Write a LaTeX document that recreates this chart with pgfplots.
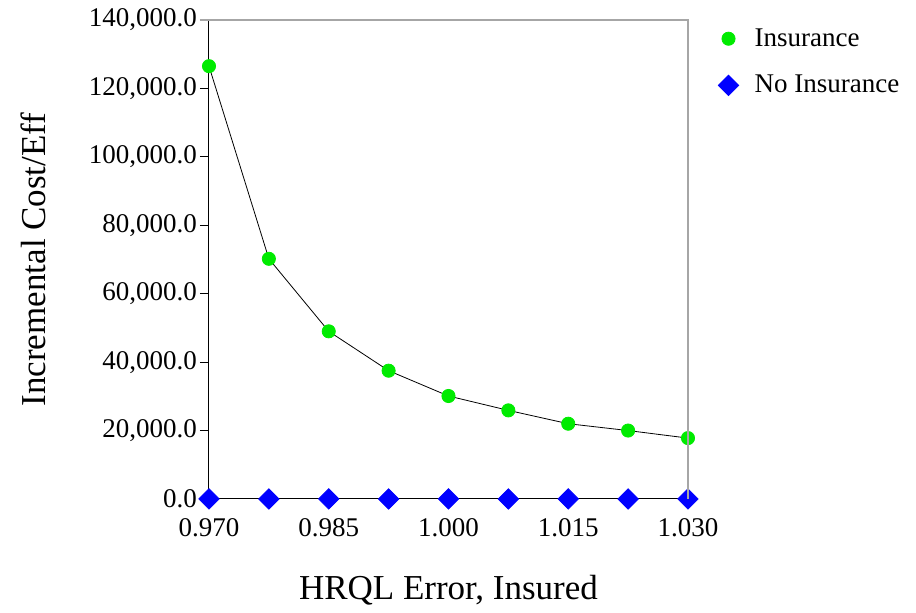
\documentclass[border=0pt]{standalone}
\usepackage{fontspec}
\setmainfont{Liberation Serif}
\usepackage{pgfplots}
\pgfplotsset{compat=1.18}
\definecolor{ptgreen}{RGB}{0,235,0}
\definecolor{ptblue}{RGB}{0,0,255}

\pgfplotstableread{
x      y
0.9700 126500
0.9775 70200
0.9850 49000
0.9925 37500
1.0000 30100
1.0075 25900
1.0150 22000
1.0225 20000
1.0300 17800
}\insured

\pgfplotstableread{
x      y
0.9700 0
0.9775 0
0.9850 0
0.9925 0
1.0000 0
1.0075 0
1.0150 0
1.0225 0
1.0300 0
}\uninsured

\begin{document}
\begin{tikzpicture}
% page extent: 916x613 px at 0.5pt per px, axis origin at (209,499) px
\path[use as bounding box] (-104.5pt,-57pt) rectangle (353.5pt,249.5pt);
\begin{axis}[
    scale only axis,
    width=239.5pt, height=239.5pt,
    at={(0,0)}, anchor=south west,
    xmin=0.97, xmax=1.03,
    ymin=0, ymax=140000,
    axis x line*=bottom,
    axis y line*=left,
    axis line style={black, line width=0.5pt},
    axis on top,
    clip=false,
    xtick={0.97,0.985,1.0,1.015,1.03},
    minor xtick={0.9775,0.9925,1.0075,1.0225},
    ytick={0,20000,...,140000},
    tick align=outside,
    major tick length=4.5pt,
    minor tick length=4.5pt,
    tick style={black, line width=0.5pt},
    xticklabel style={yshift=-1.5pt, /pgf/number format/.cd, fixed, fixed zerofill, precision=3, assume math mode=true},
    yticklabel style={xshift=2pt, /pgf/number format/.cd, fixed, fixed zerofill, precision=1, 1000 sep={,}, assume math mode=true},
    scaled ticks=false,
    ticklabel style={font=\fontsize{13.5}{15}\selectfont},
    xlabel={HRQL Error, Insured},
    ylabel={Incremental Cost/Eff},
    label style={font=\fontsize{17.5}{19}\selectfont},
    xlabel style={at={(axis description cs:0.5,-0.19)}, anchor=center},
    ylabel style={at={(axis description cs:-0.367,0.5)}, anchor=center},
    legend style={draw=none, fill=none, at={(axis description cs:1.05,1.0)}, anchor=north west,
        font=\fontsize{13.5}{15}\selectfont, row sep=9pt,
        /tikz/every odd column/.append style={column sep=6pt}},
    legend cell align=left,
]
\addplot[only marks, mark=*, mark size=3.3pt, mark options={draw=ptgreen, fill=ptgreen}] table[x=x,y=y] {\insured};
\addlegendentry{Insurance}
\addplot[only marks, mark=square*, mark size=3.6pt, mark options={rotate=45, draw=ptblue, fill=ptblue}] table[x=x,y=y] {\uninsured};
\addlegendentry{No Insurance}
\addplot[forget plot, black, line width=0.4pt, no marks] table[x=x,y=y] {\insured};
\end{axis}
\draw[gray!70, line width=0.6pt] (-4.5pt,239.5pt) -- (239.5pt,239.5pt) -- (239.5pt,0pt);
\end{tikzpicture}
\end{document}
